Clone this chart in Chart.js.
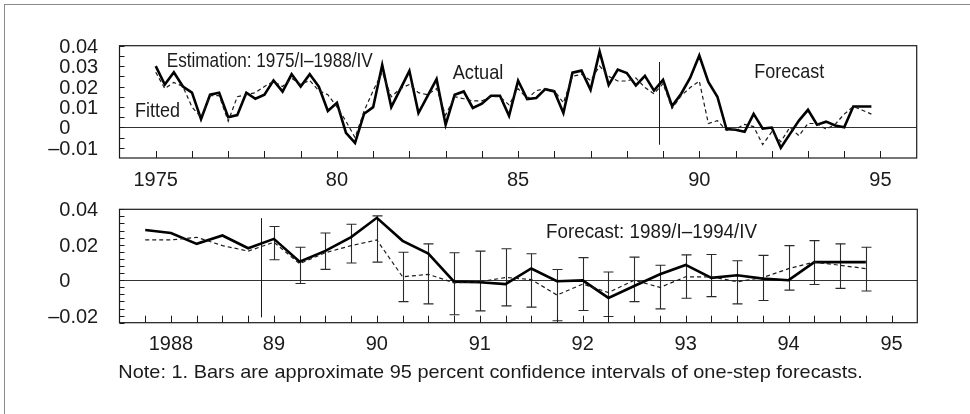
<!DOCTYPE html>
<html>
<head>
<meta charset="utf-8">
<script src="https://cdn.jsdelivr.net/npm/chart.js@4.4.1/dist/chart.umd.min.js"></script>
<style>
html, body { margin: 0; padding: 0; background: #fff; }
#wrap { position: relative; width: 970px; height: 414px; overflow: hidden; background: #fff; }
#frame { position: absolute; left: 4px; top: 4px; width: 1000px; height: 500px; border: 1px solid #8a8a8a; }
canvas { position: absolute; left: 0; }
</style>
</head>
<body>
<div id="wrap">
  <div id="frame"></div>
  <canvas id="topChart" width="970" height="195" style="top:0"></canvas>
  <canvas id="bottomChart" width="970" height="219" style="top:195px"></canvas>
</div>
<script>
// quarterly series, 1975/I ... 1994/IV
var firstYear = 1975;
var actual = [
  0.030, 0.021, 0.027, 0.020, 0.017, 0.004, 0.016, 0.017, 0.005, 0.006,
  0.017, 0.014, 0.016, 0.023, 0.0175, 0.026, 0.020, 0.026, 0.020, 0.008,
  0.012, -0.0027, -0.0076, 0.0067, 0.0099, 0.0306, 0.0099, 0.0187, 0.0277, 0.0070,
  0.0153, 0.0236, 0.0013, 0.0160, 0.0176, 0.0095, 0.0116, 0.0155, 0.0155, 0.0057,
  0.0229, 0.0139, 0.0144, 0.0187, 0.0176, 0.0070, 0.0268, 0.0278, 0.0184, 0.0371,
  0.0208, 0.0283, 0.0266, 0.0205, 0.0252, 0.0180, 0.0233, 0.0104, 0.0165, 0.0243,
  0.0352, 0.0222, 0.0150, -0.0008, -0.0012, -0.0022, 0.0066, -0.0006, -0.0001, -0.0100,
  -0.0033, 0.0033, 0.0086, 0.0013, 0.0028, 0.0009, 0.0000, 0.0102, 0.0102, 0.0102
];
var fitted = [
  0.027, 0.019, 0.022, 0.020, 0.010, 0.005, 0.0155, 0.0155, 0.003, 0.015,
  0.016, 0.017, 0.020, 0.0225, 0.020, 0.024, 0.021, 0.023, 0.018, 0.016,
  0.010, 0.003, -0.005, 0.008, 0.018, 0.027, 0.015, 0.019, 0.021, 0.017,
  0.016, 0.019, 0.006, 0.015, 0.014, 0.013, 0.013, 0.015, 0.015, 0.011,
  0.019, 0.014, 0.018, 0.019, 0.018, 0.012, 0.025, 0.026, 0.023, 0.030,
  0.025, 0.0227, 0.0227, 0.0242, 0.0195, 0.0164, 0.0214, 0.0093, 0.0155, 0.0195,
  0.0227, 0.0019, 0.0033, -0.0015, -0.0009, 0.0015, 0.0004, -0.0084, -0.0022, -0.007,
  0.000, -0.0041, 0.0019, 0.0019, -0.0009, 0.0015, 0.0065, 0.0102, 0.0084, 0.0065
];
// lower panel starts at 1987/IV, forecasts (with bars) start at 1989/I
var zoomStart = 51;
var forecastStart = 56;
var ciLow = [0.0115, -0.0019, 0.0061, 0.0097, 0.0102, -0.0121, -0.0134, -0.0195, -0.0173, -0.0145, -0.0152, -0.0229,
             -0.0171, -0.0205, -0.0121, -0.0162, -0.0102, -0.0093, -0.0134, -0.0115, -0.0056, -0.0024, -0.0046, -0.0061];
var ciHigh = [0.0303, 0.0186, 0.0266, 0.0316, 0.0363, 0.0158, 0.0205, 0.0155, 0.0164, 0.0177, 0.0149, 0.0060,
              0.0127, 0.0046, 0.0130, 0.0084, 0.0143, 0.0145, 0.0110, 0.0140, 0.0195, 0.0223, 0.0205, 0.0186];

var topYLabels = [0.04, 0.03, 0.02, 0.01, 0, -0.01];
var bottomYLabels = [0.04, 0.02, 0, -0.02];
var topXLabels = [[1975, '1975'], [1980, '80'], [1985, '85'], [1990, '90'], [1995, '95']];
var bottomXLabels = [[1988, '1988'], [1989, '89'], [1990, '90'], [1991, '91'], [1992, '92'], [1993, '93'], [1994, '94'], [1995, '95']];

var INK = '#1b1b1b';
var SANS = '"Liberation Sans", Arial, Helvetica, sans-serif';

function points(arr, from) {
  var out = [];
  for (var i = from; i < arr.length; i++) {
    out.push({ x: firstYear + i / 4, y: arr[i] });
  }
  return out;
}

// draw text squeezed to a given width (condensed face look)
function fitText(ctx, text, x, y, width, font) {
  ctx.save();
  ctx.font = font;
  var w = ctx.measureText(text).width;
  ctx.translate(x, y);
  ctx.scale(width / w, 1);
  ctx.textAlign = 'left';
  ctx.textBaseline = 'alphabetic';
  ctx.fillStyle = INK;
  ctx.fillText(text, 0, 0);
  ctx.restore();
}

function yLabel(v) {
  if (v === 0) return '0';
  return Math.abs(v).toFixed(2);
}

var panelPlugin = {
  id: 'panel',
  beforeDatasetsDraw: function (chart) {
    var o = chart.options.plugins.panel;
    var ctx = chart.ctx, a = chart.chartArea, xs = chart.scales.x, ys = chart.scales.y;
    ctx.save();
    // zero line
    ctx.strokeStyle = '#333';
    ctx.lineWidth = 1;
    ctx.beginPath();
    var y0 = Math.round(ys.getPixelForValue(0)) + 0.5;
    ctx.moveTo(a.left, y0); ctx.lineTo(a.right, y0);
    ctx.stroke();
    // end of estimation period
    var xv = Math.round(xs.getPixelForValue(o.split[0])) + 0.5;
    ctx.strokeStyle = INK;
    ctx.beginPath();
    ctx.moveTo(xv, ys.getPixelForValue(o.split[1]));
    ctx.lineTo(xv, ys.getPixelForValue(o.split[2]));
    ctx.stroke();
    // confidence bars
    if (o.bars) {
      ctx.strokeStyle = '#2a2a2a';
      ctx.lineWidth = 1.1;
      for (var i = 0; i < ciLow.length; i++) {
        var px = Math.round(xs.getPixelForValue(firstYear + (forecastStart + i) / 4)) + 0.5;
        var lo = Math.min(ys.getPixelForValue(ciLow[i]), a.bottom);
        var hi = ys.getPixelForValue(ciHigh[i]);
        ctx.beginPath();
        ctx.moveTo(px, lo); ctx.lineTo(px, hi);
        ctx.moveTo(px - 5, hi); ctx.lineTo(px + 5, hi);
        ctx.moveTo(px - 5, lo); ctx.lineTo(px + 5, lo);
        ctx.stroke();
      }
    }
    ctx.restore();
  },
  afterDraw: function (chart) {
    var o = chart.options.plugins.panel;
    var ctx = chart.ctx, a = chart.chartArea, xs = chart.scales.x, ys = chart.scales.y;
    ctx.save();
    ctx.strokeStyle = INK;
    ctx.lineWidth = 1.2;
    ctx.strokeRect(a.left, a.top, a.right - a.left, a.bottom - a.top);
    ctx.lineWidth = 1;
    ctx.beginPath();
    // inward ticks
    for (var k = o.yTick[0]; k <= o.yTick[1]; k++) {
      var ty = Math.round(ys.getPixelForValue(k * o.yTick[2])) + 0.5;
      ctx.moveTo(a.left, ty); ctx.lineTo(a.left + 5, ty);
    }
    for (var j = o.xTick[0]; j <= o.xTick[1]; j++) {
      var tx = Math.round(xs.getPixelForValue(j * o.xTick[2])) + 0.5;
      ctx.moveTo(tx, a.bottom); ctx.lineTo(tx, a.bottom - 7);
    }
    ctx.stroke();

    ctx.fillStyle = INK;
    ctx.font = '20px ' + SANS;
    ctx.textBaseline = 'middle';
    o.yLabels.forEach(function (v) {
      var py = ys.getPixelForValue(v) + 1.5;
      ctx.textAlign = 'left';
      ctx.fillText(yLabel(v), 59.3, py);
      if (v < 0) {
        ctx.textAlign = 'right';
        ctx.fillText('\u2013', 59.3, py);
      }
    });
    ctx.textAlign = 'center';
    o.xLabels.forEach(function (l) {
      ctx.fillText(l[1], xs.getPixelForValue(l[0]), a.bottom + o.xLabelGap);
    });
    ctx.restore();

    o.notes.forEach(function (n) {
      fitText(ctx, n[0], n[1], n[2], n[3], n[4]);
    });
  }
};

var COND = '21px ' + SANS;

function lineSets(from) {
  return [
    {
      label: 'Fitted', data: points(fitted, from),
      borderColor: INK, borderWidth: 1.2, borderDash: [4, 3],
      pointRadius: 0, tension: 0, fill: false
    },
    {
      label: 'Actual', data: points(actual, from),
      borderColor: '#000', borderWidth: 2.6, borderJoinStyle: 'miter',
      pointRadius: 0, tension: 0, fill: false
    }
  ];
}

function baseOptions(padding, xMin, xMax, yMin, yMax, panel) {
  return {
    responsive: false,
    animation: false,
    events: [],
    layout: { padding: padding },
    plugins: { legend: { display: false }, tooltip: { enabled: false }, panel: panel },
    scales: {
      x: { type: 'linear', min: xMin, max: xMax, display: false },
      y: { type: 'linear', min: yMin, max: yMax, display: false }
    }
  };
}

new Chart(document.getElementById('topChart').getContext('2d'), {
  type: 'line',
  data: { datasets: lineSets(0) },
  options: baseOptions({ left: 119.5, right: 53.3, top: 45.7, bottom: 37 }, 1974, 1996, -0.015, 0.04, {
    split: [1988.875, 0.032, -0.0085],
    bars: false,
    yTick: [-2, 8, 0.005],
    xTick: [1975, 1995, 1],
    yLabels: topYLabels,
    xLabels: topXLabels,
    xLabelGap: 22.5,
    notes: [
      ['Estimation: 1975/I\u20131988/IV', 166.7, 66.7, 206, COND],
      ['Fitted', 135, 117.3, 45, COND],
      ['Actual', 452.7, 79, 50.6, COND],
      ['Forecast', 754.3, 78.3, 70, COND]
    ]
  }),
  plugins: [panelPlugin]
});

new Chart(document.getElementById('bottomChart').getContext('2d'), {
  type: 'line',
  data: { datasets: lineSets(zoomStart) },
  options: baseOptions({ left: 119.5, right: 52.7, top: 14.3, bottom: 91.3 }, 1987.5, 1995.25, -0.024, 0.04, {
    split: [1988.875, 0.035, -0.021],
    bars: true,
    yTick: [-6, 10, 0.004],
    xTick: [7951, 7980, 0.25],
    yLabels: bottomYLabels,
    xLabels: bottomXLabels,
    xLabelGap: 21.5,
    notes: [
      ['Forecast: 1989/I\u20131994/IV', 546, 43.3, 211, COND],
      ['Note: 1. Bars are approximate 95 percent confidence intervals of one-step forecasts.', 118.3, 183.3, 744.4, '19px ' + SANS]
    ]
  }),
  plugins: [panelPlugin]
});
</script>
</body>
</html>
